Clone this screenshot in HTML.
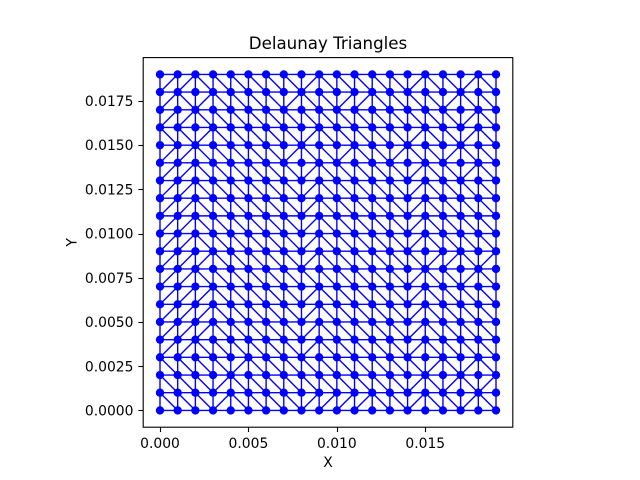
<!DOCTYPE html>
<html lang="en">
<head>
<meta charset="utf-8">
<title>Delaunay Triangles</title>
<style>
html,body{margin:0;padding:0;background:#fff;}
svg{display:block;}
text{font-family:"DejaVu Sans","Liberation Sans",sans-serif;fill:#000;}
</style>
</head>
<body>
<svg id="chart" xmlns="http://www.w3.org/2000/svg" width="640" height="480" viewBox="0 0 640 480">
<rect x="0" y="0" width="640" height="480" fill="#fff"/>
<g id="edges" stroke="#0000ff" stroke-width="1.39" fill="none"></g>
<g id="points" fill="#0000ff"></g>
<rect x="143.2" y="57.6" width="369.6" height="369.6" fill="none" stroke="#000" stroke-width="1.11"/>
<g id="x-ticks"></g>
<g id="y-ticks"></g>
<text x="328" y="49" font-size="16.67" text-anchor="middle">Delaunay Triangles</text>
<text x="328" y="467" font-size="13.89" text-anchor="middle">X</text>
<text x="0" y="0" font-size="13.89" text-anchor="middle" transform="translate(76.5 242.4) rotate(-90)">Y</text>
</svg>
<script>
const xValues = [0,0.001,0.002,0.003,0.004,0.005,0.006,0.007,0.008,0.009,0.010,0.011,0.012,0.013,0.014,0.015,0.016,0.017,0.018,0.019];
const yValues = [0,0.001,0.002,0.003,0.004,0.005,0.006,0.007,0.008,0.009,0.010,0.011,0.012,0.013,0.014,0.015,0.016,0.017,0.018,0.019];
const xTickValues = [0,0.005,0.010,0.015];
const xTickLabels = ["0.000","0.005","0.010","0.015"];
const yTickValues = [0,0.0025,0.0050,0.0075,0.0100,0.0125,0.0150,0.0175];
const yTickLabels = ["0.0000","0.0025","0.0050","0.0075","0.0100","0.0125","0.0150","0.0175"];
// Triangle diagonal per grid cell: first string is the bottom row. U = rising, D = falling.
const cellDiagonals = [
  "DDDUDDDDU"+"UUUDDUDDUD",
  "DDDUDDDDD"+"DDDDDUDUDU",
  "DDDDUDDDD"+"DDDDDDUDUD",
  "UUDDDDDDU"+"DDDDDUDDDD",
  "UUUDDDDDU"+"DDDDDUDDDD",
  "UUUDDDDDU"+"DDDDDUDDDD",
  "UUUDDDDDU"+"DDDDDUDDDD",
  "UUDDDDDDD"+"DDDDDUDDUD",
  "UUUDDDDDU"+"DDDDDDUUDU",
  "UUDDDDDDU"+"DDDDDUDDDD",
  "UUDDDDDDU"+"DDDDDUDDDD",
  "UUDDDDDDU"+"DDDDDUDDDD",
  "UUDDDDDDU"+"DDDDDUDDDD",
  "UUDDDDDDU"+"DDDDDUDDUD",
  "UUDDDDDUD"+"DUDDUDDUDD",
  "DDUDDDDDU"+"DDDDDUDDUD",
  "UUDDDDDDD"+"DDDDDDDDUD",
  "UDUDDDDUD"+"DUUDDDDUDD",
  "UUDDDDDDU"+"DDDDDUDDUD"
];

const NS = "http://www.w3.org/2000/svg";
const plotLeft = 143.2, plotTop = 57.6, plotSize = 369.6;
const xMin = -0.00095, xMax = 0.01995, yMin = -0.00095, yMax = 0.01995;
function xScale(v){ return plotLeft + (v - xMin) / (xMax - xMin) * plotSize; }
function yScale(v){ return plotTop + plotSize - (v - yMin) / (yMax - yMin) * plotSize; }

const edgesGroup = document.getElementById("edges");
const pointsGroup = document.getElementById("points");
const xTicksGroup = document.getElementById("x-ticks");
const yTicksGroup = document.getElementById("y-ticks");

function addEdge(x1, y1, x2, y2){
  const el = document.createElementNS(NS, "line");
  
  
  el.setAttribute("x1", xScale(x1).toFixed(2));
  el.setAttribute("y1", yScale(y1).toFixed(2));
  el.setAttribute("x2", xScale(x2).toFixed(2));
  el.setAttribute("y2", yScale(y2).toFixed(2));
  edgesGroup.appendChild(el);
}

yValues.forEach(function(y, r){
  xValues.forEach(function(x, c){
    if (c + 1 < xValues.length) addEdge(x, y, xValues[c + 1], y);
    if (r + 1 < yValues.length) addEdge(x, y, x, yValues[r + 1]);
    if (c + 1 < xValues.length && r + 1 < yValues.length) {
      if (cellDiagonals[r][c] === "U") addEdge(x, y, xValues[c + 1], yValues[r + 1]);
      else addEdge(x, yValues[r + 1], xValues[c + 1], y);
    }
  });
});

yValues.forEach(function(y){
  xValues.forEach(function(x){
    const el = document.createElementNS(NS, "circle");
    
    
    el.setAttribute("cx", xScale(x).toFixed(2));
    el.setAttribute("cy", yScale(y).toFixed(2));
    el.setAttribute("r", "4.17");
    pointsGroup.appendChild(el);
  });
});

xTickValues.forEach(function(v, i){
  const px = Math.round(xScale(v)) + 0.5;
  const tick = document.createElementNS(NS, "line");
  
  
  tick.setAttribute("x1", px);
  tick.setAttribute("x2", px);
  tick.setAttribute("y1", plotTop + plotSize);
  tick.setAttribute("y2", plotTop + plotSize + 4.86);
  tick.setAttribute("stroke", "#000");
  tick.setAttribute("stroke-width", "1.11");
  xTicksGroup.appendChild(tick);
  const label = document.createElementNS(NS, "text");
  
  
  label.setAttribute("x", xScale(v));
  label.setAttribute("y", 448);
  label.setAttribute("font-size", "13.89");
  label.setAttribute("text-anchor", "middle");
  label.textContent = xTickLabels[i];
  xTicksGroup.appendChild(label);
});

yTickValues.forEach(function(v, i){
  const py = Math.round(yScale(v)) + 0.5;
  const tick = document.createElementNS(NS, "line");
  
  
  tick.setAttribute("y1", py);
  tick.setAttribute("y2", py);
  tick.setAttribute("x1", plotLeft - 4.86);
  tick.setAttribute("x2", plotLeft);
  tick.setAttribute("stroke", "#000");
  tick.setAttribute("stroke-width", "1.11");
  yTicksGroup.appendChild(tick);
  const label = document.createElementNS(NS, "text");
  
  
  label.setAttribute("x", plotLeft - 9.72);
  label.setAttribute("y", yScale(v) + 5.1);
  label.setAttribute("font-size", "13.89");
  label.setAttribute("text-anchor", "end");
  label.textContent = yTickLabels[i];
  yTicksGroup.appendChild(label);
});
</script>
</body>
</html>
